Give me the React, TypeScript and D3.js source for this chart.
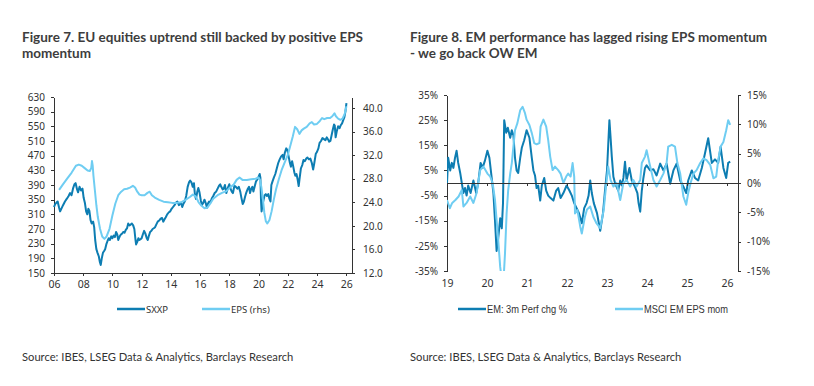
import React, { useRef, useEffect } from "react";
import * as d3 from "d3";

const DARK = "#0d7db2";
const LIGHT = "#6fcdf2";
const AXIS = "#333333";

// Figure 7: SXXP index (lhs) and EPS (rhs), decimal year -> value
const sxxp: [number, number][] = [
  [2006.0, 330], [2006.08, 338], [2006.17, 342], [2006.25, 345], [2006.35, 328], [2006.42, 318],
  [2006.5, 325], [2006.62, 335], [2006.75, 345], [2006.87, 352], [2007.0, 360], [2007.1, 368],
  [2007.2, 362], [2007.3, 380], [2007.4, 392], [2007.48, 395], [2007.58, 378], [2007.65, 370],
  [2007.75, 385], [2007.85, 375], [2007.95, 380], [2008.03, 355], [2008.12, 340], [2008.2, 318],
  [2008.28, 310], [2008.35, 325], [2008.42, 320], [2008.5, 295], [2008.58, 285], [2008.68, 290],
  [2008.75, 275], [2008.82, 240], [2008.9, 215], [2008.98, 205], [2009.07, 195], [2009.14, 180],
  [2009.2, 172], [2009.27, 190], [2009.35, 205], [2009.43, 210], [2009.5, 215], [2009.58, 228],
  [2009.67, 238], [2009.75, 245], [2009.83, 240], [2009.92, 250], [2010.0, 245], [2010.08, 252],
  [2010.17, 248], [2010.25, 262], [2010.33, 255], [2010.4, 240], [2010.5, 250], [2010.58, 255],
  [2010.67, 258], [2010.75, 262], [2010.83, 260], [2010.92, 268], [2011.0, 272], [2011.08, 285],
  [2011.17, 280], [2011.25, 282], [2011.33, 285], [2011.42, 280], [2011.5, 270], [2011.58, 240],
  [2011.62, 228], [2011.7, 235], [2011.78, 245], [2011.85, 240], [2011.92, 242], [2012.0, 245],
  [2012.08, 255], [2012.17, 265], [2012.25, 258], [2012.35, 245], [2012.42, 240], [2012.5, 252],
  [2012.58, 262], [2012.67, 265], [2012.75, 270], [2012.83, 272], [2012.92, 275], [2013.0, 282],
  [2013.1, 290], [2013.2, 293], [2013.3, 298], [2013.4, 300], [2013.48, 290], [2013.55, 295],
  [2013.65, 302], [2013.75, 310], [2013.85, 315], [2013.95, 318], [2014.05, 325], [2014.15, 330],
  [2014.25, 335], [2014.35, 342], [2014.45, 345], [2014.55, 335], [2014.62, 340], [2014.7, 340],
  [2014.78, 330], [2014.85, 338], [2014.95, 345], [2015.05, 360], [2015.15, 385], [2015.25, 398],
  [2015.32, 402], [2015.4, 398], [2015.5, 385], [2015.58, 395], [2015.65, 362], [2015.72, 352],
  [2015.8, 370], [2015.88, 382], [2015.96, 370], [2016.05, 348], [2016.12, 335], [2016.2, 340],
  [2016.3, 350], [2016.4, 339], [2016.47, 328], [2016.55, 340], [2016.62, 345], [2016.7, 342],
  [2016.8, 353], [2016.9, 360], [2017.0, 368], [2017.1, 372], [2017.2, 380], [2017.3, 388],
  [2017.38, 392], [2017.45, 385], [2017.55, 378], [2017.62, 380], [2017.7, 390], [2017.8, 368],
  [2017.9, 382], [2018.0, 392], [2018.08, 380], [2018.17, 372], [2018.25, 368], [2018.35, 388],
  [2018.45, 385], [2018.55, 380], [2018.65, 385], [2018.75, 372], [2018.83, 355], [2018.92, 338],
  [2019.0, 345], [2019.08, 358], [2019.17, 370], [2019.27, 380], [2019.35, 385], [2019.42, 368],
  [2019.5, 380], [2019.58, 385], [2019.65, 372], [2019.75, 388], [2019.83, 400], [2019.92, 405],
  [2020.0, 412], [2020.08, 420], [2020.13, 410], [2020.17, 350], [2020.21, 318], [2020.27, 335],
  [2020.35, 350], [2020.42, 362], [2020.5, 365], [2020.58, 360], [2020.67, 365], [2020.75, 352],
  [2020.82, 345], [2020.88, 390], [2020.96, 400], [2021.05, 410], [2021.15, 420], [2021.25, 435],
  [2021.35, 450], [2021.45, 460], [2021.55, 468], [2021.65, 472], [2021.72, 460], [2021.8, 478],
  [2021.9, 490], [2021.98, 485], [2022.05, 470], [2022.15, 450], [2022.22, 440], [2022.3, 455],
  [2022.38, 440], [2022.45, 425], [2022.52, 415], [2022.6, 420], [2022.68, 405], [2022.75, 387],
  [2022.82, 410], [2022.9, 435], [2023.0, 445], [2023.08, 458], [2023.17, 455], [2023.27, 462],
  [2023.35, 465], [2023.45, 460], [2023.55, 462], [2023.65, 450], [2023.74, 432], [2023.82, 450],
  [2023.92, 475], [2024.0, 480], [2024.1, 490], [2024.18, 505], [2024.28, 510], [2024.38, 518],
  [2024.48, 515], [2024.58, 512], [2024.67, 520], [2024.75, 515], [2024.84, 508], [2024.92, 510],
  [2025.0, 525], [2025.08, 540], [2025.17, 555], [2025.22, 552], [2025.28, 520], [2025.35, 535],
  [2025.45, 550], [2025.55, 545], [2025.63, 553], [2025.72, 558], [2025.8, 567], [2025.88, 575],
  [2025.95, 590], [2026.02, 613],
];

const epsRhs: [number, number][] = [
  [2006.35, 26.1], [2006.6, 27.0], [2006.9, 28.0], [2007.2, 29.0], [2007.5, 30.2], [2007.7, 30.4],
  [2007.9, 30.2], [2008.1, 29.8], [2008.3, 29.4], [2008.45, 29.3], [2008.55, 29.8], [2008.6, 31.0],
  [2008.65, 30.2], [2008.7, 28.5], [2008.8, 26.0], [2008.9, 23.5], [2009.0, 21.5], [2009.15, 19.5],
  [2009.3, 18.2], [2009.45, 17.8], [2009.6, 18.2], [2009.8, 19.5], [2010.0, 21.8], [2010.2, 23.8],
  [2010.4, 25.2], [2010.6, 25.8], [2010.8, 26.2], [2011.0, 26.3], [2011.2, 26.5], [2011.4, 26.8],
  [2011.55, 26.5], [2011.7, 25.8], [2011.85, 25.3], [2012.0, 25.2], [2012.2, 25.2], [2012.4, 25.6],
  [2012.55, 25.8], [2012.7, 25.2], [2012.9, 24.8], [2013.2, 24.4], [2013.5, 24.1], [2013.8, 24.0],
  [2014.1, 23.9], [2014.4, 23.9], [2014.7, 24.0], [2015.0, 24.4], [2015.3, 24.9], [2015.5, 25.3],
  [2015.7, 25.0], [2015.9, 24.0], [2016.1, 23.4], [2016.3, 23.0], [2016.5, 23.1], [2016.7, 23.8],
  [2016.9, 24.6], [2017.2, 25.2], [2017.5, 25.6], [2017.8, 25.9], [2018.0, 26.4], [2018.3, 27.0],
  [2018.5, 27.8], [2018.7, 28.2], [2018.9, 27.8], [2019.2, 27.8], [2019.5, 27.9], [2019.8, 28.0],
  [2020.0, 28.2], [2020.1, 27.8], [2020.2, 26.5], [2020.3, 24.5], [2020.4, 22.2], [2020.5, 20.8],
  [2020.6, 20.4], [2020.75, 21.0], [2020.9, 22.5], [2021.05, 24.5], [2021.2, 26.2], [2021.4, 28.0],
  [2021.6, 29.6], [2021.8, 30.8], [2022.0, 32.0], [2022.2, 33.8], [2022.35, 35.2], [2022.5, 36.8],
  [2022.65, 36.4], [2022.8, 35.6], [2022.95, 36.2], [2023.1, 36.5], [2023.3, 36.8], [2023.5, 37.4],
  [2023.65, 37.6], [2023.8, 37.2], [2024.0, 37.3], [2024.2, 37.8], [2024.35, 38.3], [2024.5, 38.1],
  [2024.7, 38.3], [2024.9, 38.3], [2025.05, 38.6], [2025.2, 39.1], [2025.3, 38.6], [2025.45, 38.2],
  [2025.6, 38.0], [2025.75, 38.2], [2025.9, 39.0], [2026.02, 40.3],
];

// Figure 8: EM 3m perf chg % (lhs) and MSCI EM EPS momentum % (rhs)
const emPerf: [number, number][] = [
  [2019.0, 0], [2019.03, 10], [2019.08, 5], [2019.12, 8], [2019.16, 6], [2019.2, 10], [2019.24, 12.8],
  [2019.28, 8], [2019.33, 4], [2019.37, 0], [2019.41, -4], [2019.45, -2], [2019.49, -5], [2019.53, -1],
  [2019.59, -4], [2019.66, 1], [2019.73, -4], [2019.78, 0], [2019.84, 8], [2019.89, 6], [2019.95, 9],
  [2020.01, 12.8], [2020.06, 10], [2020.11, 3], [2020.16, -4], [2020.2, -15], [2020.24, -27],
  [2020.28, -22], [2020.33, -14], [2020.37, -18], [2020.4, -8], [2020.43, 25], [2020.48, 20],
  [2020.52, 22], [2020.58, 18], [2020.62, 21], [2020.66, 19], [2020.7, 10], [2020.74, 5], [2020.78, 4],
  [2020.83, 10], [2020.87, 14], [2020.93, 17], [2020.99, 21], [2021.06, 18], [2021.12, 10],
  [2021.16, 5], [2021.2, 3], [2021.24, -2], [2021.28, -1], [2021.33, -7], [2021.37, -1], [2021.43, 2],
  [2021.48, -3], [2021.53, -5], [2021.59, -6], [2021.66, -7], [2021.73, -3], [2021.78, -2],
  [2021.84, -6], [2021.91, -4], [2021.99, -1], [2022.06, -3], [2022.12, -5], [2022.18, -8],
  [2022.24, -10], [2022.3, -12], [2022.37, -16], [2022.43, -10], [2022.49, -8], [2022.54, -5],
  [2022.58, 1], [2022.62, -4], [2022.67, -8], [2022.75, -12], [2022.83, -19], [2022.9, -12],
  [2022.95, -3], [2023.0, 5], [2023.03, 15], [2023.06, 25], [2023.09, 18], [2023.12, 10.5],
  [2023.16, 2.5], [2023.2, 0], [2023.24, -1.5], [2023.28, -3], [2023.33, 1], [2023.37, -1],
  [2023.41, 2], [2023.45, 8.5], [2023.49, 1], [2023.56, 6], [2023.62, 1], [2023.7, -1.5],
  [2023.76, -4], [2023.79, -8], [2023.83, -11.4], [2023.87, -3], [2023.91, 2], [2023.95, 6],
  [2023.99, 7], [2024.08, 5], [2024.16, 5.5], [2024.24, 3], [2024.33, 7.7], [2024.41, 5],
  [2024.49, 7.7], [2024.58, -0.3], [2024.66, 5], [2024.74, 7.7], [2024.83, 1], [2024.91, -1.5],
  [2024.98, -4], [2025.03, 1], [2025.12, 5], [2025.2, 2], [2025.28, 1], [2025.37, 6], [2025.45, 11.8],
  [2025.53, 17.8], [2025.62, 8], [2025.7, 9.4], [2025.78, 8], [2025.84, 14.4], [2025.91, 6],
  [2025.98, 2], [2026.03, 8], [2026.08, 8.5],
];

const emEpsMom: [number, number][] = [
  [2019.0, -2.9], [2019.07, -4.3], [2019.13, -3.4], [2019.21, -2.9], [2019.29, -2.3], [2019.37, -1.2],
  [2019.41, -4.0], [2019.49, -3.4], [2019.58, -2.3], [2019.66, -3.4], [2019.74, -1.7], [2019.83, 2.2],
  [2019.91, 2.8], [2020.01, 1.6], [2020.08, 1.1], [2020.14, 0], [2020.2, -2.9], [2020.24, -6.3],
  [2020.28, -9.7], [2020.33, -14.3], [2020.37, -16.5], [2020.41, -17], [2020.45, -12], [2020.49, -5.2],
  [2020.53, -1.2], [2020.58, 1.6], [2020.62, 3.4], [2020.66, 6.2], [2020.7, 9.0], [2020.76, 10.2],
  [2020.83, 12.4], [2020.89, 13.0], [2020.95, 11.9], [2020.99, 10.8], [2021.06, 9.9], [2021.12, 8.5],
  [2021.18, 6.8], [2021.24, 6.6], [2021.31, 6.8], [2021.34, 9.6], [2021.41, 10.8], [2021.48, 9.6],
  [2021.53, 7.3], [2021.58, 4.5], [2021.64, 2.2], [2021.7, 2.8], [2021.78, 2.2], [2021.84, 1.6],
  [2021.91, 0], [2021.98, 1.1], [2022.03, 1.6], [2022.09, 1.1], [2022.14, 3.4], [2022.18, 1.1],
  [2022.2, -5.2], [2022.26, -4.6], [2022.33, -7.4], [2022.37, -8.6], [2022.45, -5.7], [2022.5, -4.5],
  [2022.58, -4.0], [2022.66, -5.8], [2022.74, -6.9], [2022.83, -7.7], [2022.87, -6.3], [2022.92, -4.5],
  [2022.95, -2.3], [2023.03, 2.8], [2023.09, 0.5], [2023.16, -0.6], [2023.24, 0], [2023.33, -2.9],
  [2023.41, 0], [2023.49, 0.5], [2023.58, -0.6], [2023.66, 0.5], [2023.74, -0.6], [2023.83, 0.5],
  [2023.87, 3.4], [2023.95, 4.5], [2023.99, 5.6], [2024.06, 3.4], [2024.16, 0.5], [2024.24, -0.6],
  [2024.33, 0.5], [2024.41, 1.6], [2024.49, 3.4], [2024.53, 6.2], [2024.62, 6.5], [2024.7, 6.2],
  [2024.76, 3.4], [2024.83, 1.6], [2024.91, -2.3], [2024.98, -3.7], [2025.03, -1.7], [2025.09, 0],
  [2025.16, 1.6], [2025.24, 2.2], [2025.33, 3.4], [2025.41, 4.2], [2025.49, 3.9], [2025.58, 3.1],
  [2025.66, 0.8], [2025.73, 1.1], [2025.78, 3.9], [2025.84, 6.2], [2025.91, 7.0], [2025.98, 9.0],
  [2026.03, 10.7], [2026.08, 9.9],
];

const eqTicks = [150, 190, 230, 270, 310, 350, 390, 430, 470, 510, 550, 590, 630];
const epsTicks = [12, 16, 20, 24, 28, 32, 36, 40];
const yearsFig7 = [2006, 2008, 2010, 2012, 2014, 2016, 2018, 2020, 2022, 2024, 2026];
const perfTicks = [-35, -25, -15, -5, 5, 15, 25, 35];
const momTicks = [-15, -10, -5, 0, 5, 10, 15];
const yearsFig8 = [2019, 2020, 2021, 2022, 2023, 2024, 2025, 2026];

const titleFont = "Lato, sans-serif";
const tickFont = "'Noto Sans', sans-serif";
const narrowFont = "'Liberation Sans', Arial, sans-serif";

const styleAxis = (sel: any) => {
  sel.selectAll("path").attr("stroke", AXIS).attr("shape-rendering", "crispEdges");
  sel.selectAll("line").attr("stroke", AXIS).attr("shape-rendering", "crispEdges");
  sel.selectAll("text").attr("fill", "#333").attr("font-family", tickFont).attr("font-size", 10);
};

const addLine = (g: any, data: [number, number][], x: any, y: any, color: string) => {
  const ln = d3.line<[number, number]>().x((d) => x(d[0])).y((d) => y(d[1]));
  g.append("path")
    .datum(data)
    .attr("d", ln)
    .attr("fill", "none")
    .attr("stroke", color)
    .attr("stroke-width", 2)
    .attr("stroke-linejoin", "round");
};

const addTitle = (svg: any, x0: number, lines: string[]) => {
  lines.forEach((t, i) => {
    svg.append("text")
      .attr("x", x0).attr("y", 42 + i * 16)
      .attr("font-family", titleFont).attr("font-weight", 700).attr("font-size", 13.5)
      .attr("fill", "#3d3d3d").text(t);
  });
};

type LegendItem = { x: number; label: string; color: string; width?: number };

const addLegend = (svg: any, items: LegendItem[], font: string, size: number) => {
  items.forEach((it) => {
    svg.append("line").attr("x1", it.x).attr("x2", it.x + 28).attr("y1", 309).attr("y2", 309)
      .attr("stroke", it.color).attr("stroke-width", 2.5);
    const t = svg.append("text").attr("x", it.x + 29).attr("y", 313)
      .attr("font-family", font).attr("font-size", size).attr("fill", "#333").text(it.label);
    // narrow legend font is not installed, squeeze to the original width
    if (it.width) t.attr("textLength", it.width).attr("lengthAdjust", "spacingAndGlyphs");
  });
};

const App = () => {
  const ref = useRef<SVGSVGElement>(null);

  useEffect(() => {
    if (!ref.current) return;
    const svg = d3.select(ref.current);
    svg.selectAll("*").remove();

    // ---------- Figure 7 ----------
    addTitle(svg, 22, ["Figure 7. EU equities uptrend still backed by positive EPS", "momentum"]);

    const x7 = d3.scaleLinear().domain([2006, 2026.4]).range([54, 352]);
    const y7 = d3.scaleLinear().domain([150, 630]).range([273, 97]);
    const y7r = d3.scaleLinear().domain([12, 12 + 176 / (165 / 28)]).range([273, 97]);

    const g7 = svg.append("g");
    g7.append("g").attr("transform", "translate(54,0)")
      .call(d3.axisLeft(y7).tickValues(eqTicks).tickSize(3).tickSizeOuter(0).tickPadding(6))
      .call(styleAxis);
    g7.append("g").attr("transform", "translate(352,0)")
      .call(d3.axisRight(y7r).tickValues(epsTicks).tickFormat(d3.format(".1f")).tickSize(3).tickSizeOuter(0).tickPadding(8))
      .call(styleAxis);
    g7.append("g").attr("transform", "translate(0,273)")
      .call(d3.axisBottom(x7).tickValues(yearsFig7).tickFormat((d: any) => String(d).slice(2)).tickSize(3).tickSizeOuter(0).tickPadding(5))
      .call(styleAxis)
      .call((a: any) => a.selectAll("text").attr("font-size", 10.5));

    addLine(g7, sxxp, x7, y7, DARK);
    addLine(g7, epsRhs, x7, y7r, LIGHT);

    addLegend(svg, [
      { x: 117, label: "SXXP", color: DARK },
      { x: 202, label: "EPS (rhs)", color: LIGHT },
    ], tickFont, 9.5);

    // ---------- Figure 8 ----------
    addTitle(svg, 410, ["Figure 8. EM performance has lagged rising EPS momentum", "- we go back OW EM"]);

    const x8 = d3.scaleLinear().domain([2019, 2026.275]).range([447, 738]);
    const y8 = d3.scaleLinear().domain([-35, 35]).range([271, 95]);
    const y8r = d3.scaleLinear().domain([-15, 15]).range([271, 95]);

    svg.append("clipPath").attr("id", "clip8")
      .append("rect").attr("x", 447).attr("y", 95).attr("width", 291).attr("height", 176);

    const g8 = svg.append("g");
    g8.append("g").attr("transform", "translate(447,0)")
      .call(d3.axisLeft(y8).tickValues(perfTicks).tickFormat((d: any) => `${d}%`).tickSize(3).tickSizeOuter(0).tickPadding(6))
      .call(styleAxis);
    g8.append("g").attr("transform", "translate(738,0)")
      .call(d3.axisRight(y8r).tickValues(momTicks).tickFormat((d: any) => `${d}%`).tickSize(3).tickSizeOuter(0).tickPadding(6))
      .call(styleAxis);
    // year labels along the bottom
    g8.append("g").attr("transform", "translate(0,271)")
      .call(d3.axisBottom(x8).tickValues(yearsFig8).tickFormat((d: any) => String(d).slice(2)).tickSize(0).tickPadding(9))
      .call(styleAxis)
      .call((a: any) => { a.select(".domain").remove(); a.selectAll("text").attr("font-size", 10.5); });

    const lines8 = g8.append("g").attr("clip-path", "url(#clip8)");
    addLine(lines8, emPerf, x8, y8, DARK);
    addLine(lines8, emEpsMom, x8, y8r, LIGHT);

    // zero line with year ticks
    g8.append("g").attr("transform", `translate(0,${y8(0)})`)
      .call(d3.axisBottom(x8).tickValues(yearsFig8.slice(1)).tickFormat(() => "").tickSize(3).tickSizeOuter(0))
      .call(styleAxis);

    addLegend(svg, [
      { x: 458, label: "EM: 3m Perf chg %", color: DARK, width: 80 },
      { x: 615, label: "MSCI EM EPS mom", color: LIGHT, width: 84 },
    ], narrowFont, 11.5);

    // sources
    [22, 410].forEach((sx) => {
      svg.append("text").attr("x", sx).attr("y", 361)
        .attr("font-family", titleFont).attr("font-size", 11.2).attr("fill", "#333")
        .text("Source: IBES, LSEG Data & Analytics, Barclays Research");
    });
  }, []);

  return (
    <svg
      ref={ref}
      width={814}
      height={386}
      style={{ position: "absolute", left: 0, top: 0, background: "#fff" }}
    />
  );
};

export default App;
